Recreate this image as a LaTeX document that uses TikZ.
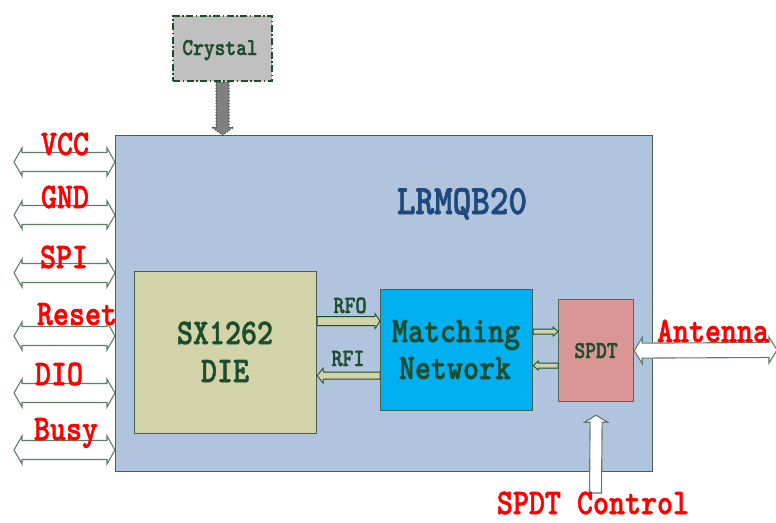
\documentclass[tikz,border=0pt]{standalone}
\usepackage{graphicx}
\usepackage{fontspec}
\newfontfamily\slab{lmmonolt10-bold.otf}[FakeBold=1.6]
\usetikzlibrary{calc}
\definecolor{steel}{HTML}{B0C4DE}
\definecolor{edge}{HTML}{41634F}
\definecolor{khaki}{HTML}{D3D3A9}
\definecolor{cyanb}{HTML}{00B0F0}
\definecolor{rose}{HTML}{D99694}
\definecolor{dgreen}{HTML}{1B4D2E}
\definecolor{navy}{HTML}{1F497D}
\definecolor{arrowedge}{HTML}{5E7E6A}
\definecolor{grayA}{HTML}{C0C0C0}
\definecolor{grayB}{HTML}{808080}
\newcommand{\mytxt}[2]{\scalebox{1}[1.18]{\fontsize{#1}{#1}\selectfont\slab #2}}
% style, left tip, right tip, shaft half, head half, head length
\newcommand{\hdouble}[6]{\draw[#1] (#2) -- ($(#2)+(#6,-#5)$) -- ($(#2)+(#6,-#4)$) -- ($(#3)+(-#6,-#4)$) -- ($(#3)+(-#6,-#5)$) -- (#3) -- ($(#3)+(-#6,#5)$) -- ($(#3)+(-#6,#4)$) -- ($(#2)+(#6,#4)$) -- ($(#2)+(#6,#5)$) -- cycle;}
% style, tail, tip, shaft half, head half, head length
\newcommand{\hright}[6]{\draw[#1] ($(#2)+(0,-#4)$) -- ($(#3)+(-#6,-#4)$) -- ($(#3)+(-#6,-#5)$) -- (#3) -- ($(#3)+(-#6,#5)$) -- ($(#3)+(-#6,#4)$) -- ($(#2)+(0,#4)$) -- cycle;}
\newcommand{\hleft}[6]{\draw[#1] ($(#2)+(0,-#4)$) -- ($(#3)+(#6,-#4)$) -- ($(#3)+(#6,-#5)$) -- (#3) -- ($(#3)+(#6,#5)$) -- ($(#3)+(#6,#4)$) -- ($(#2)+(0,#4)$) -- cycle;}
\newcommand{\vdown}[6]{\draw[#1] ($(#2)+(-#4,0)$) -- ($(#3)+(-#4,-#6)$) -- ($(#3)+(-#5,-#6)$) -- (#3) -- ($(#3)+(#5,-#6)$) -- ($(#3)+(#4,-#6)$) -- ($(#2)+(#4,0)$) -- cycle;}
\newcommand{\vup}[6]{\draw[#1] ($(#2)+(-#4,0)$) -- ($(#3)+(-#4,#6)$) -- ($(#3)+(-#5,#6)$) -- (#3) -- ($(#3)+(#5,#6)$) -- ($(#3)+(#4,#6)$) -- ($(#2)+(#4,0)$) -- cycle;}
\begin{document}
\begin{tikzpicture}[x=1pt,y=-1pt,
  box/.style={draw=edge, line width=1.2pt, inner sep=0pt, anchor=north west},
  lbl/.style={anchor=base, inner sep=0pt, text=red},
  dtxt/.style={anchor=base, inner sep=0pt, text=dgreen},
  wire/.style={draw=arrowedge, fill=white, line width=1.1pt, line join=miter},
  rfarrow/.style={draw=dgreen, fill=khaki, line width=0.9pt, line join=miter}]
\useasboundingbox (0,0) rectangle (776,522);
\fill[white] (0,0) rectangle (776,522);

% boxes
\node[box, fill=steel, minimum width=537pt, minimum height=336pt] (main) at (115,135) {};
\node[box, fill=khaki, minimum width=182pt, minimum height=162pt] (sx) at (134,271) {};
\node[box, fill=cyanb, draw=edge, minimum width=152pt, minimum height=121pt] (mn) at (380,289) {};
\node[box, fill=rose, draw=edge!80!gray, minimum width=75pt, minimum height=102pt] (spdt) at (558,299) {};
\node[box, fill=grayA, draw=dgreen, line width=2.2pt, dash pattern=on 7pt off 2.5pt on 1.5pt off 2.5pt, minimum width=99pt, minimum height=65pt] (crystal) at (172,15) {};

% crystal arrow
\coordinate (xtip) at ($(crystal.south)+(0,53)$);
\vdown{draw=dgreen, fill=grayB, line width=1.4pt, dash pattern=on 0pt off 3pt, line cap=round}{crystal.south}{xtip}{6.5}{11}{8}

% left double arrows
\coordinate (l1) at (14,162);  \coordinate (r1) at (main.west |- l1);
\coordinate (l2) at (14,215);  \coordinate (r2) at (main.west |- l2);
\coordinate (l3) at (14,273);  \coordinate (r3) at (main.west |- l3);
\coordinate (l4) at (14,336);  \coordinate (r4) at (main.west |- l4);
\coordinate (l5) at (14,393);  \coordinate (r5) at (main.west |- l5);
\coordinate (l6) at (14,450);  \coordinate (r6) at (main.west |- l6);
\hdouble{wire}{l1}{r1}{9.5}{14}{8}
\hdouble{wire}{l2}{r2}{9.5}{14}{8}
\hdouble{wire}{l3}{r3}{9.5}{14}{8}
\hdouble{wire}{l4}{r4}{9.5}{14}{8}
\hdouble{wire}{l5}{r5}{9.5}{14}{8}
\hdouble{wire}{l6}{r6}{9.5}{14}{8}

\node[lbl] (vcc) at (65,155) {\mytxt{30.5}{VCC}};
\node[lbl] (gnd) at (65,208) {\mytxt{30.5}{GND}};
\node[lbl] (spi) at (64,268) {\mytxt{30.5}{SPI}};
\node[lbl] (rst) at (77,325) {\mytxt{30.5}{Reset}};
\node[lbl] (dio) at (59,385) {\mytxt{30.5}{DIO}};
\node[lbl] (busy) at (66,440) {\mytxt{30.5}{Busy}};

% RF arrows
\coordinate (rfo1) at ($(sx.east)+(0,-31.5)$); \coordinate (rfo2) at (mn.west |- rfo1);
\coordinate (rfi1) at ($(mn.west)+(0,25.5)$);  \coordinate (rfi2) at (sx.east |- rfi1);
\hright{rfarrow}{rfo1}{rfo2}{4.5}{7.5}{5}
\hleft{rfarrow}{rfi1}{rfi2}{3.5}{7.5}{6}
\node[dtxt] (rfo) at (350,313) {\mytxt{21}{RFO}};
\node[dtxt] (rfi) at (348,366) {\mytxt{21}{RFI}};

% matching network to SPDT
\coordinate (m1) at ($(mn.east)+(0,-18.5)$); \coordinate (m2) at (spdt.west |- m1);
\coordinate (m3) at ($(spdt.west)+(0,15)$);  \coordinate (m4) at (mn.east |- m3);
\hright{rfarrow}{m1}{m2}{2.5}{4.5}{5}
\hleft{rfarrow}{m3}{m4}{2.5}{4.5}{5}

% antenna
\coordinate (ant2) at (777,350);
\hdouble{wire}{spdt.east}{ant2}{7.5}{13}{8}
\node[lbl] (antl) at (713,342) {\mytxt{30.5}{Antenna}};

% SPDT control
\coordinate (ctl) at (595.5,493);
\coordinate (ctip) at ($(spdt.south)+(0,13)$);
\vup{wire}{ctl}{ctip}{6}{11.5}{7}
\node[lbl] (ctll) at (593,514) {\mytxt{30.5}{SPDT Control}};

% box texts
\node[dtxt] (xt) at (220,55) {\mytxt{20.5}{Crystal}};
\node[anchor=base, inner sep=0pt, text=navy] (title) at (462,214) {\mytxt{35.4}{LRMQB20}};
\node[dtxt] (sx1) at (225,344) {\mytxt{30.5}{SX1262}};
\node[dtxt] (sx2) at (225,382) {\mytxt{30.5}{DIE}};
\node[dtxt] (mn1) at (456,342) {\mytxt{30.5}{Matching}};
\node[dtxt] (mn2) at (455,379) {\mytxt{30.5}{Network}};
\node[dtxt] (spt) at (596,358) {\mytxt{20.6}{SPDT}};
\end{tikzpicture}
\end{document}
